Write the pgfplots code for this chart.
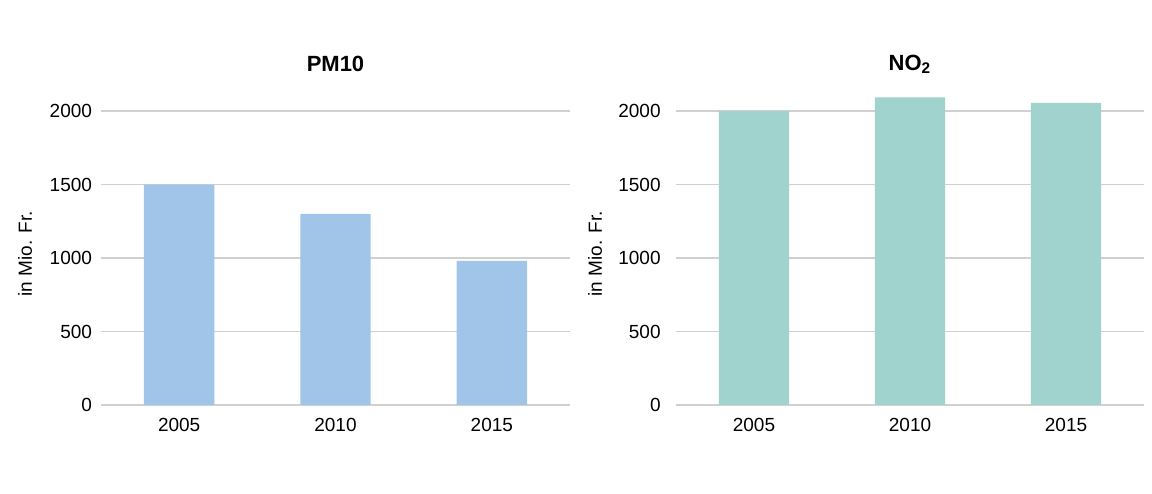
\documentclass[border=0pt]{standalone}
\usepackage{pgfplots}
\pgfplotsset{compat=1.18}
\usepackage{fontspec}
\setmainfont{Liberation Sans}
\definecolor{pmblue}{RGB}{160,197,232}
\definecolor{noteal}{RGB}{160,211,205}
\definecolor{gridgray}{RGB}{208,208,208}
\pgfplotsset{
  mybar/.style={
    scale only axis,
    width=234.5pt, height=161.7pt,
    xmin=-0.5, xmax=2.5, ymin=0, ymax=2200,
    xtick={0,1,2}, xticklabels={2005,2010,2015},
    ytick={0,500,1000,1500,2000},
    ymajorgrids, grid style={gridgray, line width=0.7pt},
    axis line style={draw=none},
    major tick style={draw=none},
    /pgf/number format/assume math mode=true,
    /pgf/number format/1000 sep={},
    tick label style={font=\fontsize{9.5}{11}\selectfont},
    xticklabel style={anchor=base, yshift=-13.3pt},
    ylabel={in Mio. Fr.},
    ylabel style={font=\fontsize{9.5}{11}\selectfont, anchor=center, rotate=0},
    title style={font=\fontsize{11}{13}\selectfont\bfseries, at={(axis description cs:0.5,1)}, anchor=center, yshift=2.6pt},
  }
}
\begin{document}
\begin{tikzpicture}
\useasboundingbox (0,0) rectangle (576pt,246.5pt);
\begin{axis}[mybar, at={(50.5pt,44pt)}, anchor=south west,
  title={PM10},
  yticklabel style={anchor=east, inner sep=0pt, xshift=-4.3pt},
  ylabel style={at={(axis description cs:-0.162,0.467)}}]
\addplot[ybar, bar width=0.45, fill=pmblue, draw=none] coordinates {(0,1500) (1,1300) (2,980)};
\end{axis}
\begin{axis}[mybar, at={(338pt,44pt)}, anchor=south west, width=234pt,
  title={NO\textsubscript{2}},
  yticklabel style={anchor=east, inner sep=0pt, xshift=-7.5pt},
  ylabel style={at={(axis description cs:-0.173,0.467)}}]
\addplot[ybar, bar width=0.45, fill=noteal, draw=none] coordinates {(0,2000) (1,2093) (2,2055)};
\end{axis}
\end{tikzpicture}
\end{document}
